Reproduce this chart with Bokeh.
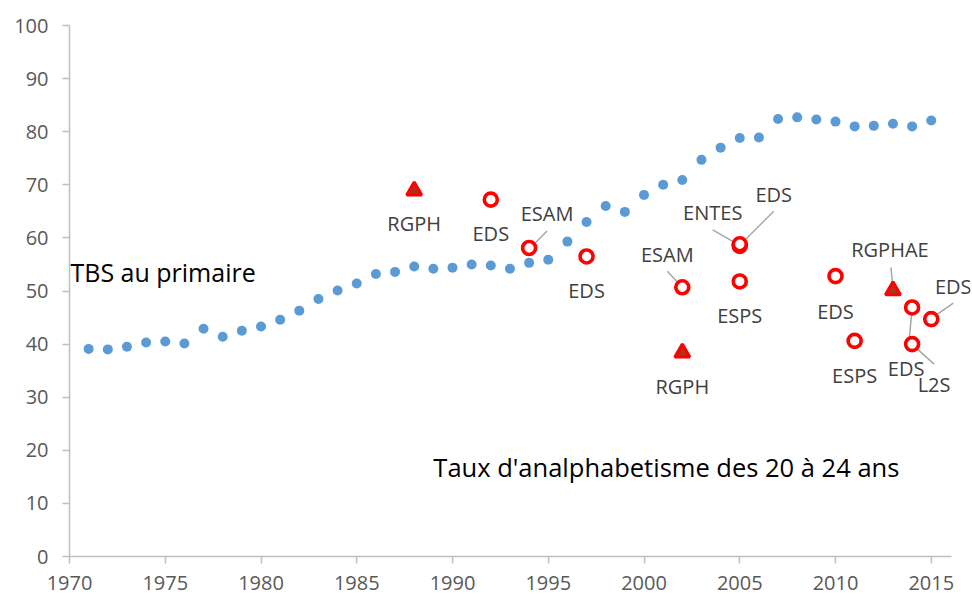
from bokeh.plotting import figure
from bokeh.models import Range1d, SingleIntervalTicker, Label
from bokeh.embed import file_html
from bokeh.resources import INLINE

# ---- data ----
years = list(range(1971, 2016))
tbs = [39.1, 39.0, 39.5, 40.3, 40.5, 40.1, 42.9, 41.4, 42.5, 43.3,
       44.6, 46.3, 48.5, 50.1, 51.4, 53.2, 53.6, 54.6, 54.2, 54.4,
       55.0, 54.8, 54.2, 55.3, 55.9, 59.3, 63.0, 66.0, 64.9, 68.1,
       70.0, 70.9, 74.7, 77.0, 78.8, 78.9, 82.4, 82.7, 82.3, 81.9,
       81.0, 81.1, 81.5, 81.0, 82.1]

survey_years = [1992, 1994, 1997, 2002, 2005, 2005, 2005, 2010, 2011, 2014, 2014, 2015]
survey_values = [67.2, 58.1, 56.5, 50.7, 58.5, 58.8, 51.8, 52.8, 40.6, 46.9, 40.0, 44.7]
survey_labels = ["EDS", "ESAM", "EDS", "ESAM", "ENTES", "EDS", "ESPS", "EDS", "ESPS", "EDS", "L2S", "EDS"]

census_years = [1988, 2002, 2013]
census_values = [68.9, 38.4, 50.1]
census_labels = ["RGPH", "RGPH", "RGPHAE"]

x_ticks_interval = 5
y_ticks_interval = 10

# ---- label placement (pixel offsets from point: label centre, leader start, leader end) ----
survey_place = [
    ((0, 34), None),
    ((18, -34), ((18, -17), (2, -1))),
    ((0, 34), None),
    ((-15, -33), ((-15, -16), (0, 0))),
    ((-27, -33), ((-27, -16), (-1, -1))),
    ((34, -50), ((34, -33), (2, -1))),
    ((0, 34), None),
    ((0, 35), None),
    ((0, 35), None),
    ((-6, 61), ((0, 2), (-4, 43))),
    ((22, 40), ((2, 2), (22, 20))),
    ((22, -33), ((22, -16), (2, -2))),
]
census_place = [
    ((0, 33), None),
    ((0, 34), None),
    ((-3, -41), ((-2, -23), (0, -2))),
]

W, H = 972, 597
LB, RB, TB, BB = 69, 2, 25, 41
PX_PER_YEAR = 19.15
x0, y0, y1 = 1970, 0, 100
x1 = x0 + (W - LB - RB) / PX_PER_YEAR
axis_end = 2016.05
pxx = PX_PER_YEAR
pxy = (H - TB - BB) / (y1 - y0)

FONT = "Open Sans"

p = figure(width=W, height=H, output_backend="svg", toolbar_location=None,
           x_range=Range1d(x0, x1), y_range=Range1d(y0, y1),
           min_border_left=LB, min_border_right=RB, min_border_top=TB, min_border_bottom=BB)
p.outline_line_color = None
p.xgrid.visible = False
p.ygrid.visible = False
p.background_fill_color = "white"
p.border_fill_color = "white"

for ax in (p.xaxis[0], p.yaxis[0]):
    ax.axis_line_color = "#bfbfbf"
    ax.axis_line_width = 1.5
    ax.major_tick_line_color = "#bfbfbf"
    ax.major_tick_line_width = 1.5
    ax.major_tick_out = 7
    ax.major_tick_in = 0
    ax.minor_tick_line_color = None
    ax.major_label_text_font = FONT
    ax.major_label_text_font_size = "20px"
    ax.major_label_text_color = "#595959"
p.xaxis[0].ticker = SingleIntervalTicker(interval=x_ticks_interval)
p.yaxis[0].ticker = SingleIntervalTicker(interval=y_ticks_interval)
p.xaxis[0].bounds = (x0, axis_end)
p.xaxis[0].major_label_standoff = 12
p.yaxis[0].major_label_standoff = 14

# blue series
p.scatter(years, tbs, size=10, color="#5b9bd5", line_color=None)

# leader lines
lx0, ly0, lx1, ly1 = [], [], [], []
def add_leader(x, y, place):
    lead = place[1]
    if lead is None:
        return
    (a, b), (c, d) = lead
    lx0.append(x + a / pxx); ly0.append(y - b / pxy)
    lx1.append(x + c / pxx); ly1.append(y - d / pxy)

for x, y, pl in zip(survey_years, survey_values, survey_place):
    add_leader(x, y, pl)
for x, y, pl in zip(census_years, census_values, census_place):
    add_leader(x, y, pl)
p.segment(lx0, ly0, lx1, ly1, line_color="#a6a6a6", line_width=1.5)

# survey circles
p.scatter(survey_years, survey_values, marker="circle", size=13, fill_color="white",
          line_color="#ff0000", line_width=3.6)
# census triangles
p.scatter(census_years, census_values, marker="triangle", size=15, fill_color="#b0301a",
          line_color="#ff0000", line_width=3)

for x, y, t, pl in list(zip(survey_years, survey_values, survey_labels, survey_place)) + \
        list(zip(census_years, census_values, census_labels, census_place)):
    (dx, dy) = pl[0]
    p.add_layout(Label(x=x, y=y, x_offset=dx, y_offset=-dy, text=t,
                       text_font=FONT, text_font_size="20px", text_color="#404040",
                       text_align="center", text_baseline="middle"))

p.add_layout(Label(x=1970.05, y=53.6, text="TBS au primaire", text_font=FONT,
                   text_font_size="25px", text_color="black", text_baseline="middle"))
p.add_layout(Label(x=1989.0, y=16.9, text="Taux d'analphabetisme des 20 à 24 ans", text_font=FONT,
                   text_font_size="25.5px", text_color="black", text_baseline="middle"))

open("out.html", "w").write(file_html(p, INLINE))
